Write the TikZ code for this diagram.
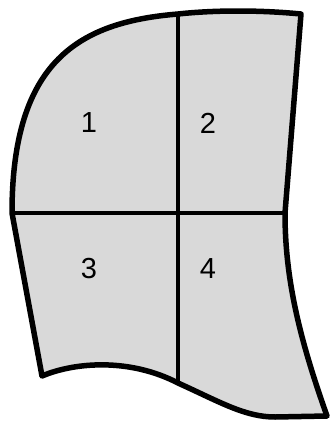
\documentclass[tikz,border=0pt]{standalone}
\usepackage{fontspec}
\setmainfont{Liberation Sans}
\usepackage{xcolor}
\definecolor{panelgray}{RGB}{217,217,217}
\usepackage{tikz}
\usetikzlibrary{positioning}

\begin{document}
\begin{tikzpicture}[
    x=1pt, y=-1pt,
    font=\fontsize{29}{35}\selectfont,
    outline/.style={draw=black, fill=panelgray, line width=5.5pt, line join=round},
    divider/.style={draw=black, line width=4.5pt},
    num/.style={inner sep=0pt, anchor=center},
]
\useasboundingbox (0,0) rectangle (331,421);

% Corner points
\coordinate (tl) at (178,14);
\coordinate (tr) at (301,14);
\coordinate (ml) at (12,213);
\coordinate (mr) at (285,213);
\coordinate (bl) at (42,376);
\coordinate (bm) at (178,383);
\coordinate (br) at (327,416);

% Outline
\path[outline] (ml) -- (bl)
    .. controls (75,362) and (130,358) .. (bm)
    .. controls (220,402) and (245,417) .. (275,417) -- (br)
    .. controls (300,340) and (285,280) .. (mr)
    -- (tr)
    .. controls (260,10) and (215,10) .. (tl)
    .. controls (80,22) and (12,60) .. (ml) -- cycle;

% Dividers
\draw[divider] (tl) -- (bm);
\draw[divider] (ml) -- (mr);

% Labels
\node[num] (n1) at (89,123) {1};
\node[num] (n2) at (208,123) {2};
\node[num] (n3) at (89,269) {3};
\node[num] (n4) at (208,269) {4};

\end{tikzpicture}
\end{document}
